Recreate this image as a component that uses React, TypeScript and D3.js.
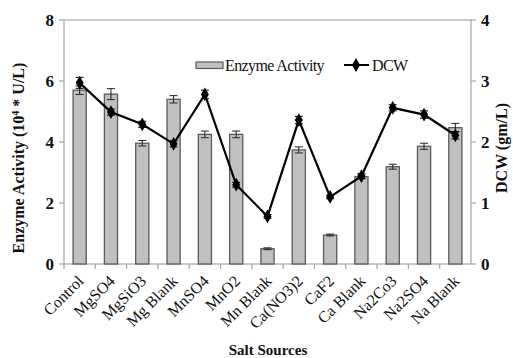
import React from "react";
import * as d3 from "d3";

const categories = [
  "Control", "MgSO4", "MgSiO3", "Mg Blank", "MnSO4", "MnO2", "Mn Blank",
  "Ca(NO3)2", "CaF2", "Ca Blank", "Na2Co3", "Na2SO4", "Na Blank",
];
const enzymeActivity = [5.7, 5.57, 3.96, 5.4, 4.25, 4.25, 0.5, 3.74, 0.95, 2.86, 3.19, 3.86, 4.47];
const enzymeError = [0.14, 0.18, 0.09, 0.12, 0.11, 0.11, 0.03, 0.1, 0.03, 0.06, 0.08, 0.1, 0.14];
const dcw = [2.97, 2.49, 2.29, 1.97, 2.78, 1.3, 0.78, 2.36, 1.1, 1.44, 2.56, 2.45, 2.11];
const dcwError = [0.09, 0.05, 0.05, 0.05, 0.07, 0.04, 0.03, 0.06, 0.03, 0.04, 0.05, 0.06, 0.06];
const leftTicks = [0, 2, 4, 6, 8];
const rightTicks = [0, 1, 2, 3, 4];

const W = 513;
const H = 358;
const M = { left: 64, right: 471, top: 20, bottom: 264 };
const FONT = "Liberation Serif, Times New Roman, Times, serif";
const txt = { fontFamily: FONT };

export default function App() {
  const x = d3.scaleBand<string>().domain(categories).range([M.left, M.right]).paddingInner(0.58).paddingOuter(0.29);
  const xb = d3.scaleBand<string>().domain(categories).range([M.left, M.right]);
  const yL = d3.scaleLinear().domain([0, 8]).range([M.bottom, M.top]);
  const yR = d3.scaleLinear().domain([0, 4]).range([M.bottom, M.top]);
  const cx = (c: string) => (xb(c) as number) + xb.bandwidth() / 2;

  const line = d3
    .line<number>()
    .x((_, i) => cx(categories[i]))
    .y((d) => yR(d));

  const diamond = d3.symbol().type(d3.symbolDiamond).size(55)();
  const axisColor = "#a6a6a6";
  const cap = 4;

  return (
    <svg width={W} height={H} style={{ position: "absolute", left: 0, top: 0, background: "#fff" }}>
      {/* frame */}
      <rect x={M.left} y={M.top} width={M.right - M.left} height={M.bottom - M.top} fill="none" stroke={axisColor} strokeWidth={1.2} />

      {/* left axis ticks */}
      {leftTicks.map((t) => (
        <g key={"l" + t}>
          <line x1={M.left - 5} x2={M.left} y1={yL(t)} y2={yL(t)} stroke={axisColor} strokeWidth={1.2} />
          <text x={M.left - 10} y={yL(t)} dy="0.36em" textAnchor="end" fontSize={17} fontWeight="bold" fill="#111" style={txt}>
            {t}
          </text>
        </g>
      ))}

      {/* right axis ticks */}
      {rightTicks.map((t) => (
        <g key={"r" + t}>
          <line x1={M.right} x2={M.right + 5} y1={yR(t)} y2={yR(t)} stroke={axisColor} strokeWidth={1.2} />
          <text x={M.right + 10} y={yR(t)} dy="0.36em" textAnchor="start" fontSize={17} fontWeight="bold" fill="#111" style={txt}>
            {t}
          </text>
        </g>
      ))}

      {/* category boundary ticks */}
      {categories.map((c, i) => (
        <line key={"bt" + i} x1={xb(c)} x2={xb(c)} y1={M.bottom} y2={M.bottom + 5} stroke={axisColor} strokeWidth={1.2} />
      ))}

      {/* bars */}
      {categories.map((c, i) => (
        <rect
          key={"b" + i}
          x={x(c)}
          y={yL(enzymeActivity[i])}
          width={x.bandwidth()}
          height={M.bottom - yL(enzymeActivity[i])}
          fill="#c0c0c0"
          stroke="#5a5a5a"
          strokeWidth={1.3}
        />
      ))}

      {/* bar error bars */}
      {categories.map((c, i) => {
        const xc = cx(c);
        const y1 = yL(enzymeActivity[i] + enzymeError[i]);
        const y2 = yL(enzymeActivity[i] - enzymeError[i]);
        return (
          <g key={"be" + i} stroke="#222" strokeWidth={1}>
            <line x1={xc} x2={xc} y1={y1} y2={y2} />
            <line x1={xc - cap} x2={xc + cap} y1={y1} y2={y1} />
            <line x1={xc - cap} x2={xc + cap} y1={y2} y2={y2} />
          </g>
        );
      })}

      {/* DCW line */}
      <path d={line(dcw) as string} fill="none" stroke="#000" strokeWidth={2.2} />
      {categories.map((c, i) => {
        const xc = cx(c);
        const y1 = yR(dcw[i] + dcwError[i]);
        const y2 = yR(dcw[i] - dcwError[i]);
        return (
          <g key={"d" + i}>
            <g stroke="#000" strokeWidth={1}>
              <line x1={xc} x2={xc} y1={y1} y2={y2} />
              <line x1={xc - cap} x2={xc + cap} y1={y1} y2={y1} />
              <line x1={xc - cap} x2={xc + cap} y1={y2} y2={y2} />
            </g>
            <path d={diamond as string} transform={`translate(${xc},${yR(dcw[i])})`} fill="#000" />
          </g>
        );
      })}

      {/* category labels */}
      {categories.map((c, i) => (
        <text
          key={"t" + i}
          transform={`translate(${cx(c) + 5},${M.bottom + 18}) rotate(-45)`}
          textAnchor="end"
          fontSize={16}
          fill="#111"
          style={txt}
        >
          {c}
        </text>
      ))}

      {/* legend */}
      <rect x={196} y={62} width={27} height={6.5} fill="#c0c0c0" stroke="#5a5a5a" strokeWidth={1.2} />
      <text x={225} y={70.5} fontSize={16} letterSpacing={-0.6} fill="#111" style={txt}>
        Enzyme Activity
      </text>
      <line x1={344} x2={369} y1={65} y2={65} stroke="#000" strokeWidth={2} />
      <path d={diamond as string} transform="translate(356,65)" fill="#000" />
      <text x={372} y={70.5} fontSize={16} letterSpacing={-0.6} fill="#111" style={txt}>
        DCW
      </text>

      {/* axis titles */}
      <text
        transform={`translate(24,${(M.top + M.bottom) / 2 + 16}) rotate(-90)`}
        textAnchor="middle"
        fontSize={16}
        fontWeight="bold"
        fill="#111"
        style={txt}
      >
        Enzyme Activity (10<tspan dy={-5} fontSize={10}>4</tspan>
        <tspan dy={5}> * U/L)</tspan>
      </text>
      <text
        transform={`translate(507,${(M.top + M.bottom) / 2 + 6}) rotate(-90)`}
        textAnchor="middle"
        fontSize={16}
        fontWeight="bold"
        fill="#111"
        style={txt}
      >
        DCW (gm/L)
      </text>
      <text x={268} y={355} textAnchor="middle" fontSize={15} fontWeight="bold" fill="#111" style={txt}>
        Salt Sources
      </text>
    </svg>
  );
}
